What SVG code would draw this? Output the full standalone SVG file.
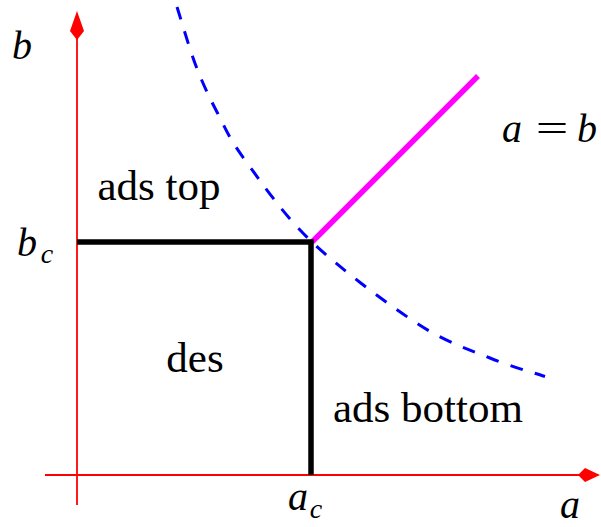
<svg xmlns="http://www.w3.org/2000/svg" width="601" height="527" viewBox="0 0 601 527">
<style>
.axis{stroke:#ff0000;stroke-width:1.8;fill:none}
.head{fill:#ff0000;stroke:none}
.bold{stroke:#000;stroke-width:5.5;fill:none}
.mag{stroke:#ff00ff;stroke-width:5.5;fill:none}
.dash{stroke:#0000ff;stroke-width:3;fill:none;stroke-dasharray:13 12.5}
text{font-family:"Liberation Serif","Times New Roman",serif;fill:#000;text-anchor:middle}
.lbl{font-size:43px}
.m{font-size:40px;font-style:italic}
.sub{font-size:28px;font-style:italic}
.eq{font-size:40px}
</style>
<g id="axes">
<line class="axis" x1="77" y1="505" x2="77" y2="38"/>
<polygon class="head" points="77,11 84,31 77,40 70,31"/>
<line class="axis" x1="45" y1="475" x2="582" y2="475"/>
<polygon class="head" points="600,475 585,468 578,475 585,482"/>
</g>
<g id="connectors">
<path class="dash" d="M177,7 C180.2,16.8 189.2,48.2 196,66 C202.8,83.8 209.8,98.3 218,114 C226.2,129.7 229.3,138.7 245,160 C260.7,181.3 283.2,214.7 312,242 C340.8,269.3 388.3,304.7 418,324 C447.7,343.3 468.8,349.25 490,358 C511.2,366.75 535.8,373.4 545,376.5"/>
<line class="mag" x1="312" y1="242" x2="478" y2="76"/>
<polyline class="bold" points="77,242 311,242 311,475"/>
</g>
<g id="labels">
<text class="lbl" x="159" y="200">ads top</text>
<text class="lbl" x="195" y="372">des</text>
<text class="lbl" x="428" y="422">ads bottom</text>
</g>
<g id="axis-labels">
<text class="m" x="22" y="59">b</text>
<text class="m" x="27" y="256">b</text>
<text class="sub" x="47" y="263">c</text>
<text class="m" x="298" y="510">a</text>
<text class="sub" x="316" y="518">c</text>
<text class="m" x="512" y="142">a</text>
<text class="eq" transform="translate(552,142) scale(1.45,1)" x="0" y="0">=</text>
<text class="m" x="587" y="142">b</text>
<text class="m" x="570" y="518">a</text>
</g>
</svg>
